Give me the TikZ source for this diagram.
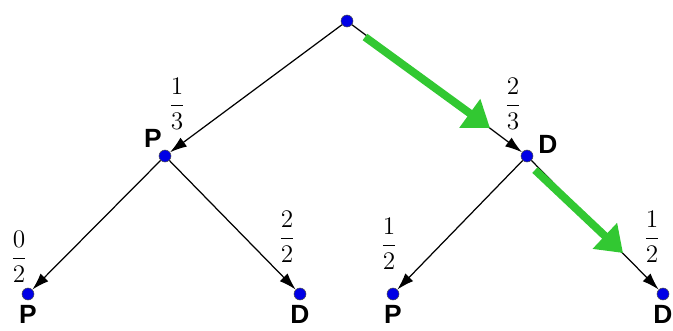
\documentclass[tikz,border=0pt]{standalone}
\usepackage{fontspec}
\usepackage{amsmath}
\setsansfont{Liberation Sans}
\usetikzlibrary{positioning,arrows.meta}
\definecolor{pathgreen}{RGB}{50,200,50}
\definecolor{dotblue}{RGB}{0,0,230}

\begin{document}
\begin{tikzpicture}[font=\sffamily\bfseries\fontsize{15}{17}\selectfont,
  dot/.style={circle,fill=dotblue,draw=black!70,line width=0.3pt,inner sep=0pt,minimum size=0.24cm},
  edge/.style={line width=0.7pt,-{Latex[length=0.34cm,width=0.22cm]}},
  prob/.style={font=\fontsize{14}{17}\selectfont,inner sep=0pt},
  lbl/.style={inner sep=0pt},
  best/.style={pathgreen,line width=4.5pt,-{Triangle[length=0.5cm,width=0.68cm]}}]
  \useasboundingbox (0,0) rectangle (13.46,-6.6);
  % nodes
  \node[dot] (r)  at (6.94,-0.42) {};
  \node[dot] (p)  at (3.30,-3.12) {};
  \node[dot] (d)  at (10.54,-3.12) {};
  \node[dot] (pp) at (0.56,-5.88) {};
  \node[dot] (pd) at (6.00,-5.88) {};
  \node[dot] (dp) at (7.86,-5.88) {};
  \node[dot] (dd) at (13.26,-5.88) {};
  % edges
  \draw[edge] (r) -- (p);
  \draw[edge] (r) -- (d);
  \draw[edge] (p) -- (pp);
  \draw[edge] (p) -- (pd);
  \draw[edge] (d) -- (dp);
  \draw[edge] (d) -- (dd);
  % probabilities
  \node[prob] (f1) at (3.54,-2.08) {$\dfrac{1}{3}$};
  \node[prob] (f2) at (10.26,-2.08) {$\dfrac{2}{3}$};
  \node[prob] (f3) at (0.38,-5.14) {$\dfrac{0}{2}$};
  \node[prob] (f4) at (5.74,-4.74) {$\dfrac{2}{2}$};
  \node[prob] (f5) at (7.78,-4.88) {$\dfrac{1}{2}$};
  \node[prob] (f6) at (13.04,-4.74) {$\dfrac{1}{2}$};
  % outcomes
  \node[lbl] (lp) at (3.06,-2.76) {P};
  \node[lbl] (ld) at (10.96,-2.88) {D};
  \node[lbl,below=1mm of pp] (lpp) {P};
  \node[lbl,below=1mm of pd] (lpd) {D};
  \node[lbl,below=1mm of dp] (ldp) {P};
  \node[lbl,below=1mm of dd] (ldd) {D};
  % best path
  \coordinate (g1s) at (7.30,-0.74);
  \coordinate (g1e) at (9.80,-2.56);
  \coordinate (g2s) at (10.70,-3.40);
  \coordinate (g2e) at (12.46,-5.06);
  \draw[best] (g1s) -- (g1e);
  \draw[best] (g2s) -- (g2e);
\end{tikzpicture}
\end{document}
